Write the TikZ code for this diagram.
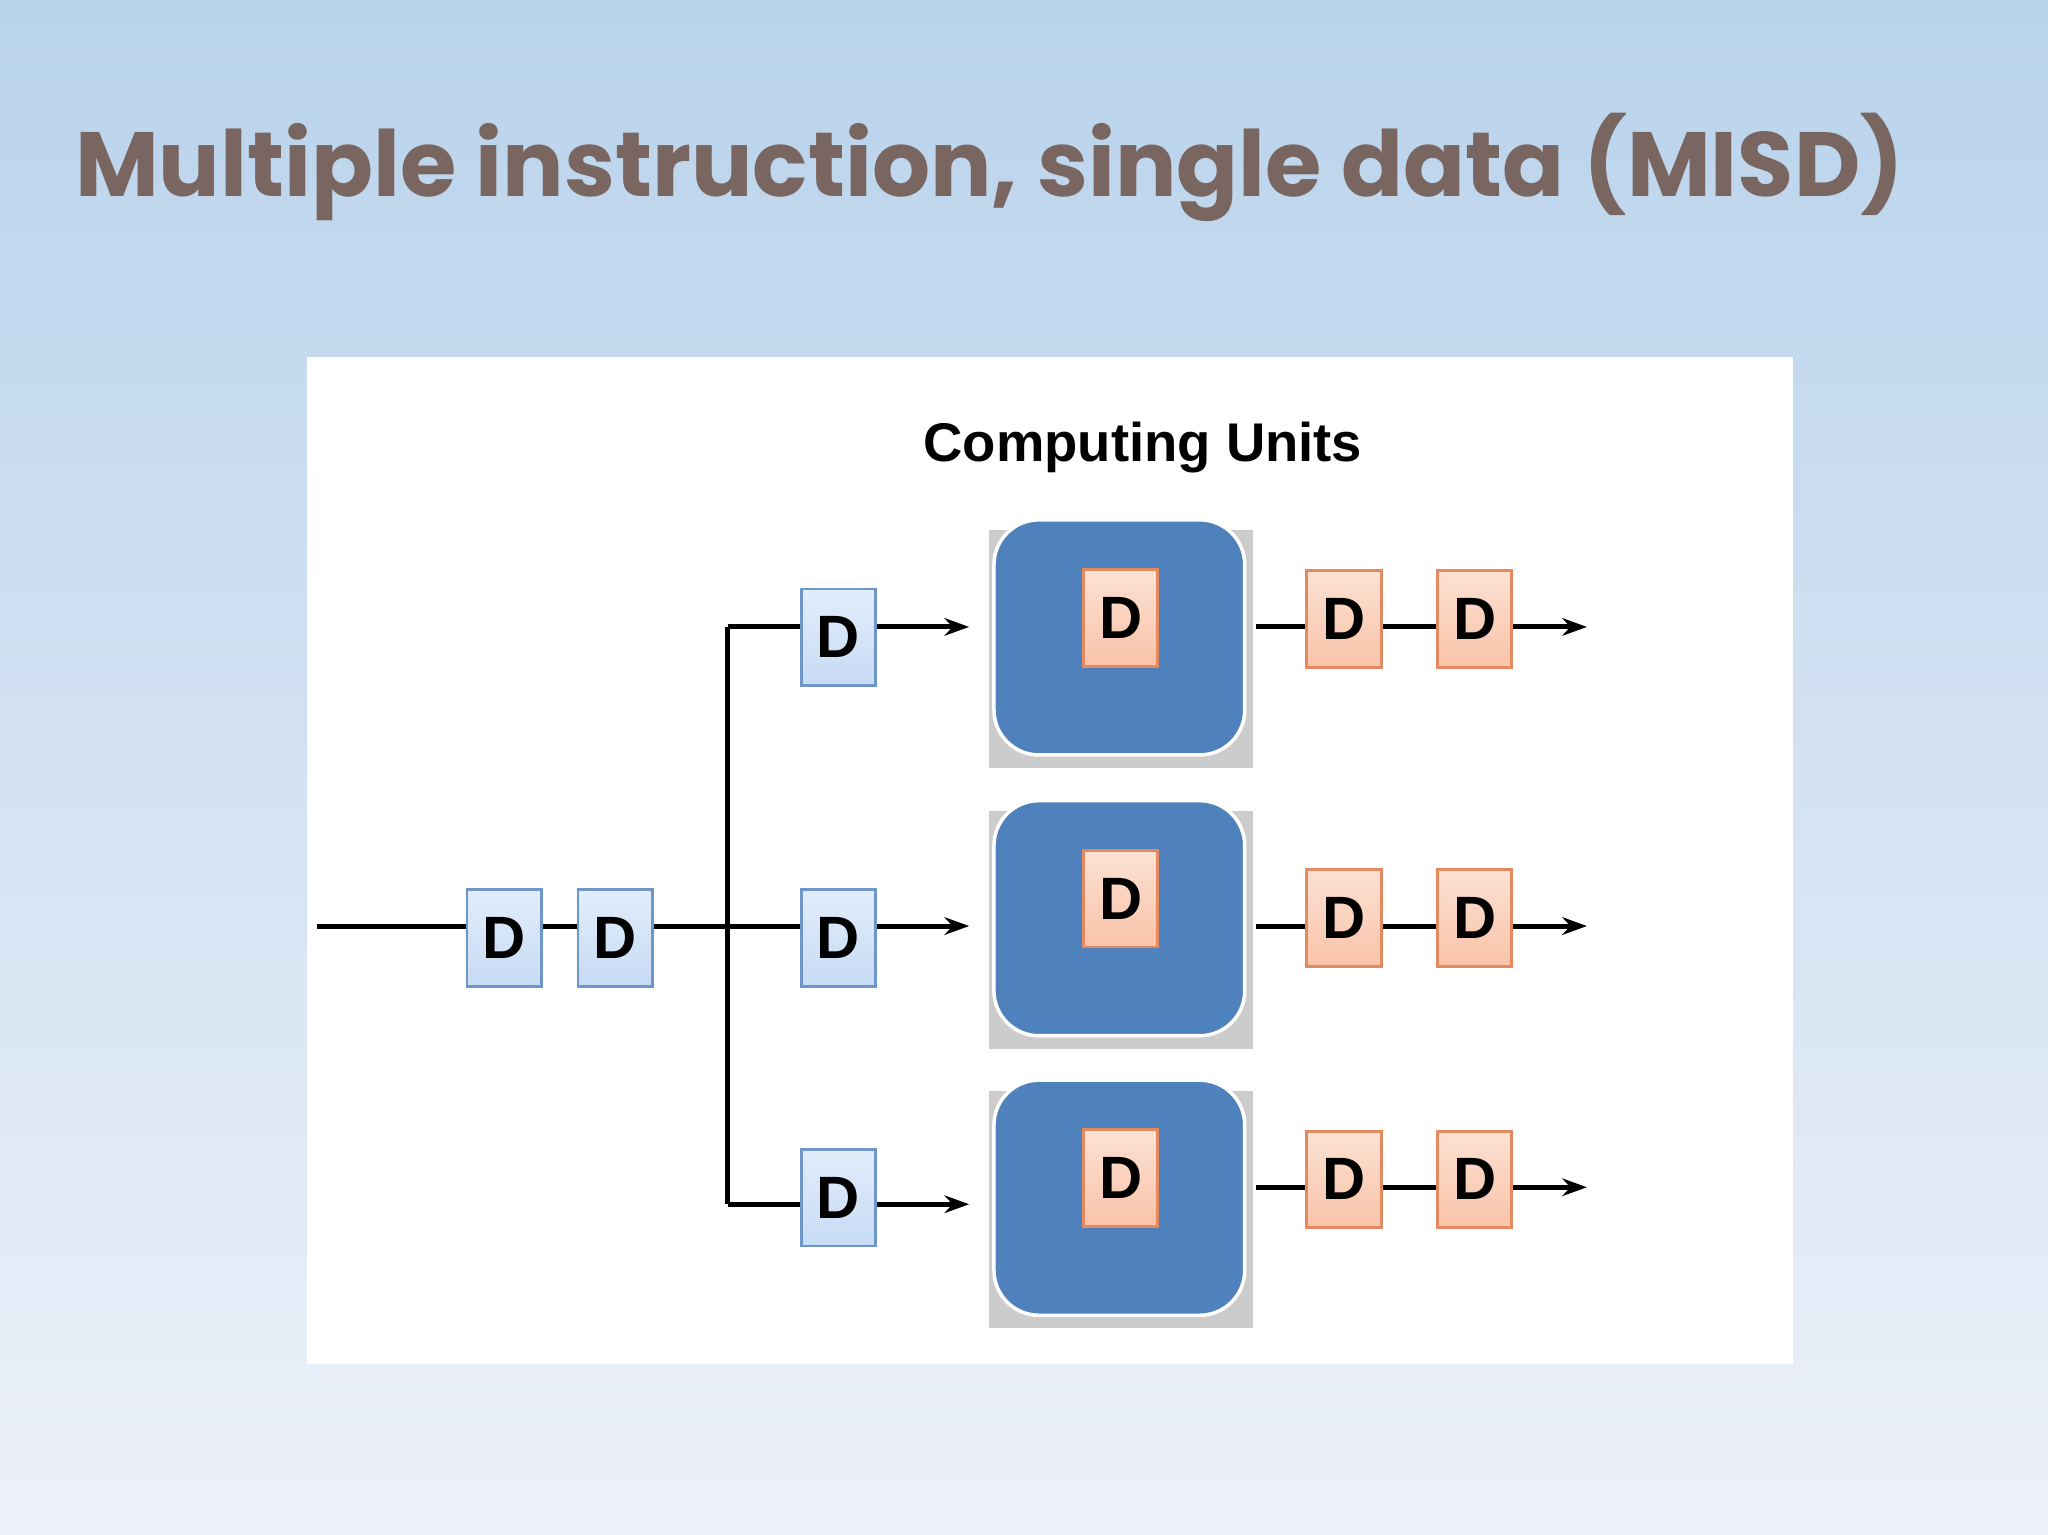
\documentclass[tikz,border=0pt]{standalone}
\usepackage{fontspec}
\setmainfont{Liberation Sans}
\newfontfamily\titlefont{Poppins}
\usetikzlibrary{arrows.meta}
\definecolor{bgtop}{HTML}{B9D3EC}
\definecolor{bgbot}{HTML}{EDF1F9}
\definecolor{titlec}{HTML}{7A6660}
\definecolor{cu}{HTML}{4F81BD}
\definecolor{obox}{HTML}{F9C3A8}
\definecolor{oline}{HTML}{E38A60}
\definecolor{bbox}{HTML}{C6DBF5}
\definecolor{bline}{HTML}{6F96C8}
\begin{document}
\begin{tikzpicture}[x=0.01306cm,y=-0.01306cm,
  dtxt/.style={font=\fontsize{17}{17}\selectfont\bfseries},
  od/.style={draw=oline,line width=0.8pt,top color=obox!50!white,bottom color=obox,minimum width=57*0.01306cm,minimum height=74*0.01306cm,inner sep=0pt,dtxt},
  bd/.style={draw=bline,line width=0.8pt,top color=bbox!50!white,bottom color=bbox,minimum width=57*0.01306cm,minimum height=74*0.01306cm,inner sep=0pt,dtxt},
  cub/.style={fill=cu,rounded corners=0.45cm,minimum width=192*0.01306cm,minimum height=180*0.01306cm,draw=white,line width=1pt},
  ln/.style={line width=1.4pt},
  ar/.style={line width=1.4pt,-{Stealth[length=7pt,width=5pt]}}]
\shade[top color=bgtop,bottom color=bgbot] (0,0) rectangle (1568,1175);
\useasboundingbox (0,0) rectangle (1568,1175);
\node[anchor=west,text=titlec,inner sep=0pt] (title) at (57,128) {\resizebox{1400\dimexpr 0.01306cm\relax}{!}{\titlefont\bfseries Multiple instruction, single data (MISD)}};
\fill[white] (235,273) rectangle (1373,1044);
\node[font=\fontsize{15.5}{15.5}\selectfont\bfseries] (cu) at (875,343) {Computing Units};
% computing units
\foreach \i/\y/\ry in {1/488/480,2/703/709,3/917/909}{
  \fill[gray!40] (757,\y-82) rectangle (959,\y+100);
  \node[cub] (C\i) at (857,\y) {};
  \node[od] (I\i) at (858,\y-15) {D};
  \node[od] (R\i a) at (1029,\ry-6) {D};
  \node[od] (R\i b) at (1129,\ry-6) {D};
  \coordinate (O\i) at (1215,\ry);
  \coordinate (S\i) at (962,\ry);
  \draw[ln] (S\i) -- (R\i a.west|-S\i);
  \draw[ln] (R\i a.east|-S\i) -- (R\i b.west|-S\i);
  \draw[ar] (R\i b.east|-S\i) -- (O\i);
}
% input
\coordinate (in) at (243,709);
\node[bd] (A) at (386,718) {D};
\node[bd] (B) at (471,718) {D};
\node[bd] (P1) at (642,488) {D};
\node[bd] (P2) at (642,718) {D};
\node[bd] (P3) at (642,917) {D};
\coordinate (J1) at (557,480);
\coordinate (J2) at (557,709);
\coordinate (J3) at (557,922);
\draw[ln] (in) -- (A.west|-in);
\draw[ln] (A.east|-in) -- (B.west|-in);
\draw[ln] (B.east|-in) -- (P2.west|-in);
\draw[ln] (J1) -- (J3);
\draw[ln] (J1) -- (P1.west|-J1);
\draw[ln] (J3) -- (P3.west|-J3);
\coordinate (E1) at (742,480);
\coordinate (E2) at (742,709);
\coordinate (E3) at (742,922);
\draw[ar] (P1.east|-E1) -- (E1);
\draw[ar] (P2.east|-E2) -- (E2);
\draw[ar] (P3.east|-E3) -- (E3);
\end{tikzpicture}
\end{document}
